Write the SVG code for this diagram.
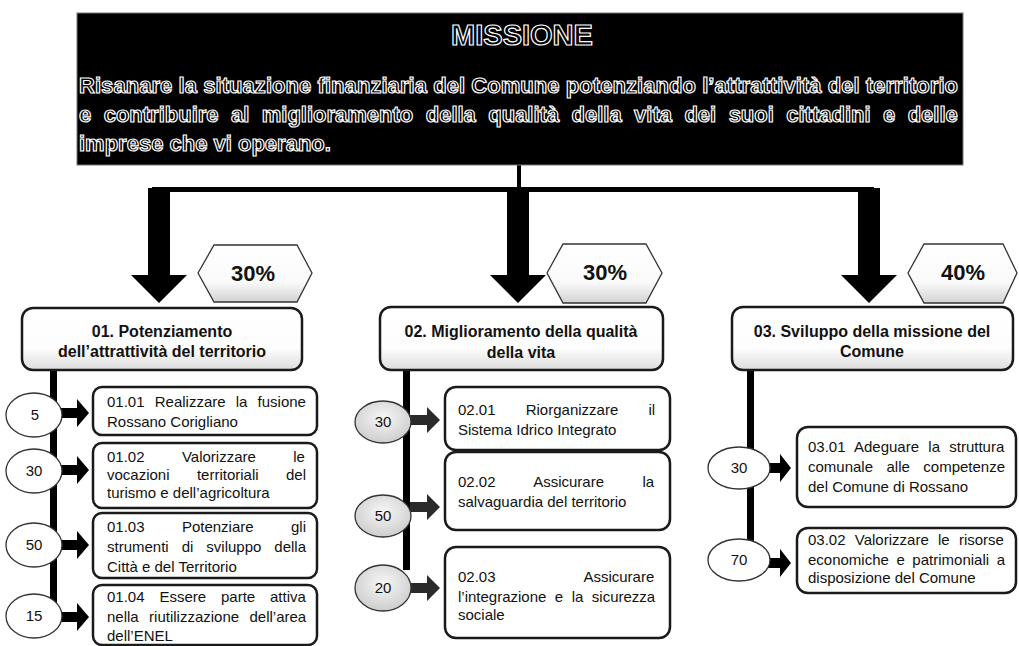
<svg xmlns="http://www.w3.org/2000/svg" width="1019" height="646" viewBox="0 0 1019 646">
<style>
text{font-family:"Liberation Sans",Arial,sans-serif}
.mt{font-weight:bold;fill:#000;stroke:#fff;stroke-width:1.2}
.h2{font-weight:bold;font-size:16px;fill:#111;text-anchor:middle}
.bt{font-size:15px;fill:#111}
.pc{font-weight:bold;font-size:22px;fill:#111;text-anchor:middle}
.cn{font-size:15px;fill:#111;text-anchor:middle}
.box{fill:#fff;stroke:#1a1a1a;stroke-width:2.5}
.l2{fill:url(#g2);stroke:#1a1a1a;stroke-width:2.5}
.hex{fill:url(#gh);stroke:#333;stroke-width:1.3}
.cw{fill:#fff;stroke:#333;stroke-width:1.3}
.cg{fill:url(#gc);stroke:#333;stroke-width:1.3}
.blk{fill:#000}
.dg{fill:#2a2a2a}
</style>
<defs>
<linearGradient id="g2" x1="0" y1="0" x2="0" y2="1"><stop offset="0" stop-color="#fff"/><stop offset="0.65" stop-color="#fdfdfd"/><stop offset="1" stop-color="#dcdcdc"/></linearGradient>
<linearGradient id="gh" x1="0" y1="0" x2="0" y2="1"><stop offset="0" stop-color="#fff"/><stop offset="0.65" stop-color="#fafafa"/><stop offset="1" stop-color="#d2d2d2"/></linearGradient>
<radialGradient id="gc" cx="0.5" cy="0.4" r="0.6"><stop offset="0" stop-color="#f7f7f7"/><stop offset="1" stop-color="#cdcdcd"/></radialGradient>
</defs>
<rect width="1019" height="646" fill="#fff"/>

<g id="connectors">
<rect class="blk" x="517" y="165" width="4" height="26"/>
<rect class="blk" x="152" y="187" width="722" height="5"/>
<polygon class="blk" points="148,188 170,188 170,275 187,275 159,303 131,275 148,275"/>
<polygon class="blk" points="507,188 529,188 529,275 546,275 518,303 490,275 507,275"/>
<polygon class="blk" points="858,188 880,188 880,275 897,275 869,303 841,275 858,275"/>
<rect class="blk" x="50" y="370" width="7" height="235"/>
<rect class="blk" x="403" y="370" width="7" height="200"/>
<rect class="blk" x="747" y="370" width="7" height="175"/>
<polygon class="blk" points="60,408 77,408 77,399 89,413 77,427 77,418 60,418"/>
<polygon class="blk" points="60,465 77,465 77,456 89,470 77,484 77,475 60,475"/>
<polygon class="blk" points="60,540 77,540 77,531 89,545 77,559 77,550 60,550"/>
<polygon class="blk" points="60,612 77,612 77,603 89,617 77,631 77,622 60,622"/>
<polygon class="dg" points="410,415 427,415 427,407 440,420 427,433 427,425 410,425"/>
<polygon class="dg" points="410,502 427,502 427,494 440,507 427,520 427,512 410,512"/>
<polygon class="dg" points="410,583 427,583 427,575 440,588 427,601 427,593 410,593"/>
<polygon class="blk" points="768,463 780,463 780,454 791,468 780,482 780,473 768,473"/>
<polygon class="blk" points="768,558 780,558 780,549 791,563 780,577 780,568 768,568"/>
</g>

<g id="missione">
<rect x="77" y="13" width="886" height="152" fill="#000" stroke="#777" stroke-width="1"/>
<text class="mt" x="522" y="45" font-size="29" text-anchor="middle">MISSIONE</text>
<text class="mt" x="79" y="93" font-size="22" textLength="879" lengthAdjust="spacing">Risanare la situazione finanziaria del Comune potenziando l’attrattività del territorio</text>
<text class="mt" x="79" y="122" font-size="22" word-spacing="6.3">e contribuire al miglioramento della qualità della vita dei suoi cittadini e delle</text>
<text class="mt" x="79" y="151" font-size="22">imprese che vi operano.</text>
</g>

<g id="pct1"><polygon class="hex" points="198,273 214,245 297,245 312,273 297,302 214,302"/><text class="pc" x="253" y="281">30%</text></g>
<g id="pct2"><polygon class="hex" points="547,273 563,244 646,244 662,273 646,303 563,303"/><text class="pc" x="605" y="280">30%</text></g>
<g id="pct3"><polygon class="hex" points="908,273 924,244 1003,244 1017,273 1003,303 924,303"/><text class="pc" x="963" y="280">40%</text></g>

<g id="obj01"><rect class="l2" x="22" y="308" width="280" height="62" rx="11"/>
<text class="h2" x="162" y="337">01. Potenziamento</text>
<text class="h2" x="162" y="357">dell’attrattività del territorio</text></g>
<g id="obj02"><rect class="l2" x="380" y="307" width="283" height="63" rx="11"/>
<text class="h2" x="521" y="337">02. Miglioramento della qualità</text>
<text class="h2" x="521" y="358">della vita</text></g>
<g id="obj03"><rect class="l2" x="732" y="307" width="281" height="63" rx="11"/>
<text class="h2" x="872" y="337">03. Sviluppo della missione del</text>
<text class="h2" x="872" y="357">Comune</text></g>

<g id="w0101"><ellipse class="cw" cx="34" cy="415" rx="28" ry="22"/><text class="cn" x="35" y="420">5</text></g>
<g id="w0102"><ellipse class="cw" cx="34" cy="471" rx="28" ry="22"/><text class="cn" x="34" y="476">30</text></g>
<g id="w0103"><ellipse class="cw" cx="34" cy="545" rx="28" ry="22"/><text class="cn" x="34" y="550">50</text></g>
<g id="w0104"><ellipse class="cw" cx="34" cy="616" rx="28" ry="22"/><text class="cn" x="34" y="621">15</text></g>
<g id="w0201"><ellipse class="cg" cx="383" cy="422" rx="28" ry="21"/><text class="cn" x="383" y="427">30</text></g>
<g id="w0202"><ellipse class="cg" cx="383" cy="516" rx="28" ry="21"/><text class="cn" x="383" y="521">50</text></g>
<g id="w0203"><ellipse class="cg" cx="383" cy="588" rx="28" ry="23"/><text class="cn" x="383" y="593">20</text></g>
<g id="w0301"><ellipse class="cw" cx="739" cy="468" rx="31" ry="21"/><text class="cn" x="739" y="473">30</text></g>
<g id="w0302"><ellipse class="cw" cx="739" cy="560" rx="31" ry="21"/><text class="cn" x="739" y="565">70</text></g>

<g id="a0101"><rect class="box" x="93" y="387" width="224" height="48" rx="9"/>
<text class="bt" x="107" y="407" word-spacing="6">01.01 Realizzare la fusione</text>
<text class="bt" x="107" y="427">Rossano Corigliano</text></g>
<g id="a0102"><rect class="box" x="93" y="443" width="224" height="65" rx="9"/>
<text class="bt" x="107" y="462" word-spacing="33.2">01.02 Valorizzare le</text>
<text class="bt" x="107" y="480" word-spacing="23.2">vocazioni territoriali del</text>
<text class="bt" x="107" y="498">turismo e dell’agricoltura</text></g>
<g id="a0103"><rect class="box" x="93" y="513" width="224" height="65" rx="9"/>
<text class="bt" x="107" y="532" word-spacing="33.2">01.03 Potenziare gli</text>
<text class="bt" x="107" y="552" word-spacing="8.8">strumenti di sviluppo della</text>
<text class="bt" x="107" y="572">Città e del Territorio</text></g>
<g id="a0104"><rect class="box" x="93" y="585" width="224" height="60" rx="9"/>
<text class="bt" x="107" y="602" word-spacing="10.7">01.04 Essere parte attiva</text>
<text class="bt" x="107" y="622" word-spacing="6.2">nella riutilizzazione dell’area</text>
<text class="bt" x="107" y="641">dell’ENEL</text></g>

<g id="a0201"><rect class="box" x="445" y="387" width="225" height="63" rx="11"/>
<text class="bt" x="458" y="415" word-spacing="26">02.01 Riorganizzare il</text>
<text class="bt" x="458" y="435">Sistema Idrico Integrato</text></g>
<g id="a0202"><rect class="box" x="445" y="452" width="225" height="78" rx="11"/>
<text class="bt" x="458" y="487" word-spacing="34.3">02.02 Assicurare la</text>
<text class="bt" x="458" y="507">salvaguardia del territorio</text></g>
<g id="a0203"><rect class="box" x="445" y="547" width="225" height="91" rx="11"/>
<text class="bt" x="458" y="582" word-spacing="84.5">02.03 Assicurare</text>
<text class="bt" x="458" y="602" word-spacing="4.3">l’integrazione e la sicurezza</text>
<text class="bt" x="458" y="620">sociale</text></g>

<g id="a0301"><rect class="box" x="797" y="427" width="219" height="80" rx="11"/>
<text class="bt" x="808" y="452" word-spacing="5.1">03.01 Adeguare la struttura</text>
<text class="bt" x="808" y="472" word-spacing="9.3">comunale alle competenze</text>
<text class="bt" x="808" y="492">del Comune di Rossano</text></g>
<g id="a0302"><rect class="box" x="797" y="528" width="219" height="65" rx="11"/>
<text class="bt" x="808" y="545" word-spacing="5.1">03.02 Valorizzare le risorse</text>
<text class="bt" x="808" y="565" word-spacing="3.4">economiche e patrimoniali a</text>
<text class="bt" x="808" y="583">disposizione del Comune</text></g>
</svg>
